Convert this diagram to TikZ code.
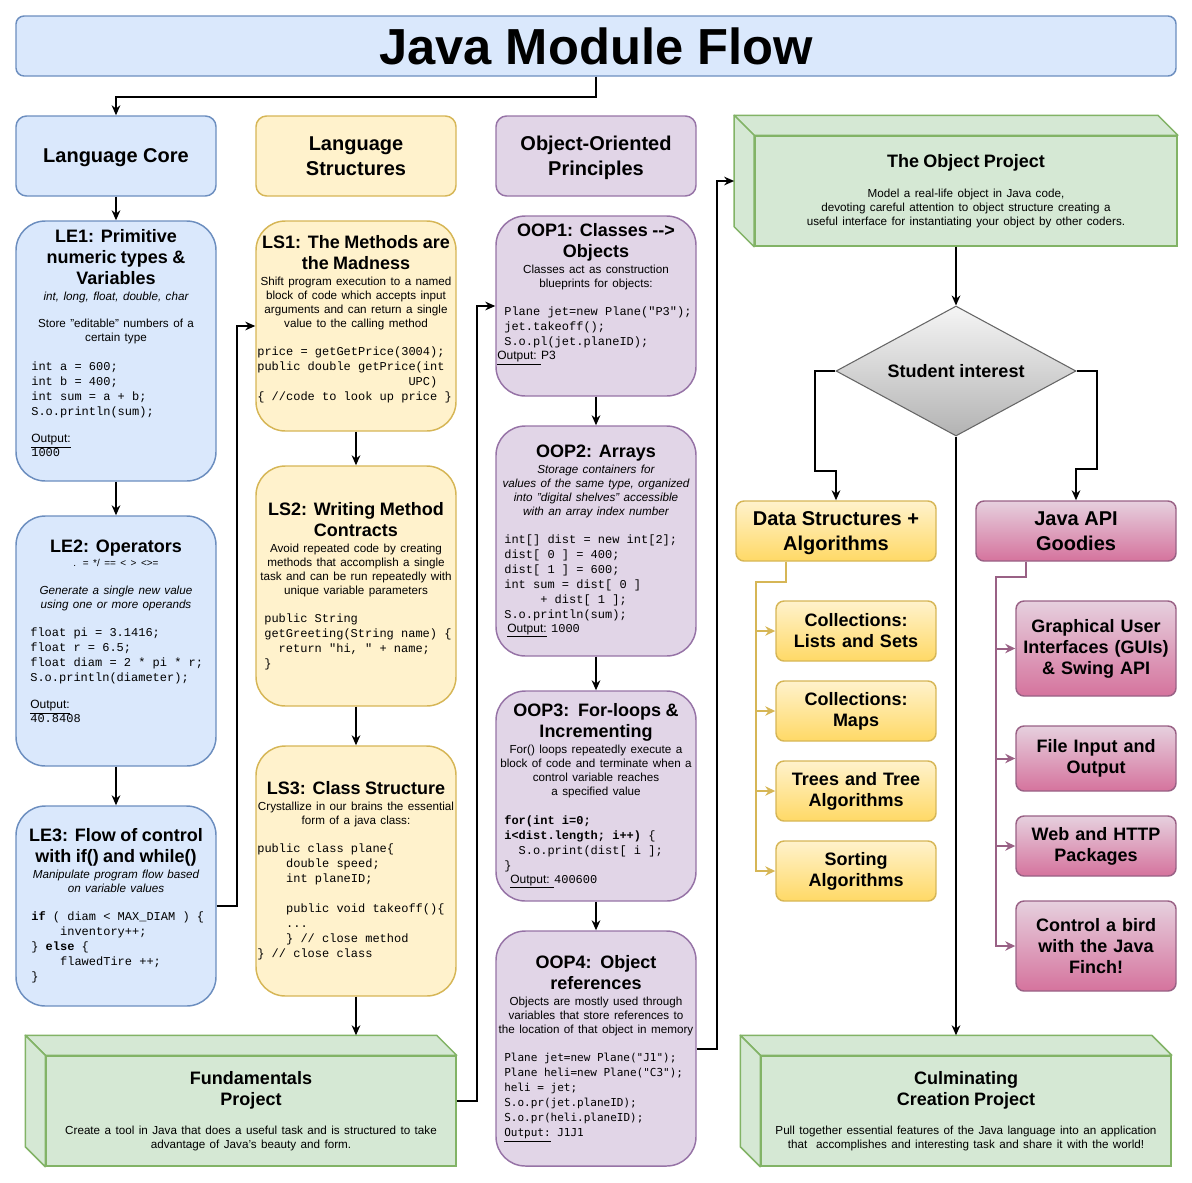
\documentclass[tikz,border=0pt]{standalone}
\usepackage{fontspec}
\setmainfont{Liberation Sans}
\setmonofont{Liberation Mono}
\newfontfamily\smallmono{DejaVu Sans Mono}
\usetikzlibrary{arrows.meta,shapes.geometric,calc}

\definecolor{coreFill}{HTML}{DAE8FC}
\definecolor{coreLine}{HTML}{6C8EBF}
\definecolor{strFill}{HTML}{FFF2CC}
\definecolor{strLine}{HTML}{D6B656}
\definecolor{strDeep}{HTML}{FFD966}
\definecolor{oopFill}{HTML}{E1D5E7}
\definecolor{oopLine}{HTML}{9673A6}
\definecolor{projFill}{HTML}{D5E8D4}
\definecolor{projLine}{HTML}{82B366}
\definecolor{apiTop}{HTML}{E6D0DE}
\definecolor{apiDeep}{HTML}{D5739D}
\definecolor{apiLine}{HTML}{996185}
\definecolor{gateTop}{HTML}{F5F5F5}
\definecolor{gateDeep}{HTML}{B3B3B3}
\definecolor{gateLine}{HTML}{666666}

\newcommand{\lessontitle}[1]{{\fontsize{13.5}{15.75}\selectfont\bfseries #1\par}\vspace{1.5pt}}
\newcommand{\lessondesc}[1]{{\fontsize{8.75}{10.5}\selectfont #1\par}}
\newcommand{\lessoncode}[2][0pt]{{\raggedright\leftskip=#1\relax\fontsize{9}{11.25}\selectfont\ttfamily\spaceskip=0.6em\relax #2\par}}
\newcommand{\lessonout}[2][0pt]{{\raggedright\leftskip=#1\relax\fontsize{9}{10.5}\selectfont #2\par}}
\newcommand{\lessongap}{\vspace{10pt}}

\begin{document}
\begin{tikzpicture}[x=0.75pt, y=-0.75pt,
    lesson/.style={rectangle, rounded corners=22pt, line width=1.1pt, text width=148pt, inner xsep=1pt, inner ysep=0pt, align=center, minimum width=150pt},
    core/.style={lesson, fill=coreFill, draw=coreLine},
    struct/.style={lesson, fill=strFill, draw=strLine},
    oop/.style={lesson, fill=oopFill, draw=oopLine},
    header/.style={rectangle, rounded corners=8pt, line width=1.1pt, minimum width=150pt, minimum height=60pt, text depth=0pt, align=center, font=\fontsize{15}{18.75}\selectfont\bfseries},
    dshead/.style={header, minimum height=45pt, rounded corners=6pt, top color=strFill, bottom color=strDeep, draw=strLine},
    apihead/.style={header, minimum height=45pt, rounded corners=6pt, top color=apiTop, bottom color=apiDeep, draw=apiLine},
    topic/.style={rectangle, rounded corners=6pt, line width=1.1pt, minimum width=120pt, minimum height=45pt, text width=117pt, inner xsep=1.5pt, align=center, font=\fontsize{13.5}{15.75}\selectfont\bfseries},
    dstopic/.style={topic, top color=strFill, bottom color=strDeep, draw=strLine},
    apitopic/.style={topic, top color=apiTop, bottom color=apiDeep, draw=apiLine},
    projface/.style={rectangle, fill=projFill, draw=projLine, line width=1.1pt, minimum width=307.5pt, minimum height=82.5pt, text width=300pt, align=center},
    projside/.style={fill=projFill, draw=projLine, line width=1.1pt, line join=round},
    flow/.style={line width=1.5pt, -{Stealth[length=7.5pt,width=6.5pt]}},
    dsflow/.style={line width=1.5pt, draw=strLine, -{Stealth[length=7.5pt,width=7pt]}},
    apiflow/.style={line width=1.5pt, draw=apiLine, -{Stealth[length=7.5pt,width=7pt]}}]

    \useasboundingbox (0,0) rectangle (1192,1182);

    % title
    \node[rectangle, rounded corners=6pt, line width=1.1pt, fill=coreFill, draw=coreLine, minimum width=870pt, minimum height=45pt, font=\fontsize{38}{40}\selectfont\bfseries] (title) at (596,46) {Java Module Flow};

    % column headers
    \node[header, fill=coreFill, draw=coreLine] (lc) at (116,156) {Language Core};
    \node[header, fill=strFill, draw=strLine] (ls) at (356,156) {Language\\Structures};
    \node[header, fill=oopFill, draw=oopLine] (lo) at (596,156) {Object-Oriented\\Principles};

    % language core
    \node[core, minimum height=195pt] (le1) at (116,351) {%
        \lessontitle{LE1: Primitive\\numeric types \&\\Variables}
        \lessondesc{\itshape int, long, float, double, char}
        \lessongap
        \lessondesc{Store "editable" numbers of a\\certain type}
        \lessongap
        \lessoncode[10.5pt]{int a = 600;\\int b = 400;\\int sum = a + b;\\S.o.println(sum);}
        \lessongap
        \lessonout[10.5pt]{\underline{Output:}\\\texttt{1000}}
        \null};
    \node[core, minimum height=187.5pt] (le2) at (116,641) {%
        \lessontitle{LE2: Operators}
        {\fontsize{7.5}{9}\selectfont . = */ == < > <>=\par}
        \lessongap
        \lessondesc{\itshape Generate a single new value\\using one or more operands}
        \lessongap
        \lessoncode[9.75pt]{float pi = 3.1416;\\float r = 6.5;\\float diam = 2 * pi * r;\\S.o.println(diameter);}
        \lessongap
        \lessonout[9.75pt]{\underline{Output:}\\\texttt{40.8408}}
        \vspace{2pt}\null};
    \node[core, minimum height=150pt] (le3) at (116,906) {%
        \lessontitle{LE3: Flow of control\\with if() and while()}
        \lessondesc{\itshape Manipulate program flow based\\on variable values}
        \lessongap
        \lessoncode[10.5pt]{\textbf{if} ( diam < MAX\_DIAM ) \{\\\ \ \ \ inventory++;\\\} \textbf{else} \{\\\ \ \ \ flawedTire ++;\\\}}};

    % language structures
    \node[struct, minimum height=157.5pt] (ls1) at (356,326) {%
        \lessontitle{LS1: The Methods are\\the Madness}
        \lessondesc{Shift program execution to a named\\block of code which accepts input\\arguments and can return a single\\value to the calling method}
        \lessongap
        \lessoncode{price = getGetPrice(3004);\\public double getPrice(int\\\hspace*{113.4pt}UPC)\\\{ //code to look up price \}}
        \null};
    \node[struct, minimum height=180pt] (ls2) at (356,586) {%
        \lessontitle{LS2: Writing Method\\Contracts}
        \lessondesc{Avoid repeated code by creating\\methods that accomplish a single\\task and can be run repeatedly with\\unique variable parameters}
        \lessongap
        \lessoncode[5.25pt]{public String\\getGreeting(String name) \{\\\ \ return "hi, " + name;\\\}}};
    \node[struct, minimum height=187.5pt] (ls3) at (356,871) {%
        \lessontitle{LS3: Class Structure}
        \lessondesc{Crystallize in our brains the essential\\form of a java class:}
        \lessongap
        \lessoncode{public class plane\{\\\ \ \ \ double speed;\\\ \ \ \ int planeID;\\\mbox{}\\\ \ \ \ public void takeoff()\{\\\ \ \ \ ...\\\ \ \ \ \} // close method\\\} // close class}};

    % object-oriented principles
    \node[oop, minimum height=135pt] (oop1) at (596,306) {%
        \lessontitle{OOP1: Classes -{}->\\Objects}
        \lessondesc{Classes act as construction\\blueprints for objects:}
        \lessongap
        \lessoncode[5.25pt]{Plane jet=new Plane("P3");\\jet.takeoff();\\S.o.pl(jet.planeID);}
        \lessonout{\underline{Output:\ }P3}
        \vspace{10pt}\null};
    \node[oop, minimum height=172.5pt] (oop2) at (596,541) {%
        \lessontitle{OOP2: Arrays}
        \lessondesc{\itshape Storage containers for\\values of the same type, organized\\into "digital shelves" accessible\\with an array index number}
        \lessongap
        \lessoncode[5.25pt]{int[] dist = new int[2];\\dist[ 0 ] = 400;\\dist[ 1 ] = 600;\\int sum = dist[ 0 ]\\\ \ \ \ \ + dist[ 1 ];\\S.o.println(sum);}
        \lessonout[7.5pt]{\underline{Output:}\ \texttt{1000}}};
    \node[oop, minimum height=157.5pt] (oop3) at (596,796) {%
        \lessontitle{OOP3:\ \ For-loops \&\\Incrementing}
        \lessondesc{For() loops repeatedly execute a\\block of code and terminate when a\\control variable reaches\\a specified value}
        \lessongap
        \lessoncode[5.25pt]{\textbf{for(int i=0;}\\\textbf{i<dist.length; i++)} \{\\\ \ S.o.print(dist[ i ];\\\}}
        \lessonout[9.75pt]{\underline{Output:\ }\texttt{400600}}};
    \node[oop, minimum height=176.25pt] (oop4) at (596,1048.5) {%
        \lessontitle{OOP4:\ \ Object\\references}
        \lessondesc{Objects are mostly used through\\variables that store references to\\the location of that object in memory}
        \vspace{10pt}
        {\raggedright\leftskip=5.25pt\fontsize{8.25}{11.25}\selectfont\smallmono\spaceskip=0.6em\relax Plane jet=new Plane("J1");\\Plane heli=new Plane("C3");\\heli = jet;\\S.o.pr(jet.planeID);\\S.o.pr(heli.planeID);\\\underline{Output:}\ J1J1\par}};

    % projects (front faces, then the cube sides)
    \node[projface] (fund) at (251,1111) {%
        {\fontsize{13.5}{15.75}\selectfont\bfseries Fundamentals\\Project\par}\vspace{11pt}
        {\fontsize{8.75}{10.5}\selectfont Create a tool in Java that does a useful task and is structured to take\\advantage of Java's beauty and form.\par}};
    \node[projface, minimum width=315pt, text width=310pt] (objp) at (966,191) {%
        {\fontsize{13.5}{15.75}\selectfont\bfseries The Object Project\par}\vspace{12pt}
        {\fontsize{8.75}{10.5}\selectfont Model a real-life object in Java code,\\devoting careful attention to object structure creating a\\useful interface for instantiating your object by other coders.\par}};
    \node[projface] (culm) at (966,1111) {%
        {\fontsize{13.5}{15.75}\selectfont\bfseries Culminating\\Creation Project\par}\vspace{11pt}
        {\fontsize{8.75}{10.5}\selectfont Pull together essential features of the Java language into an application\\that\ \ accomplishes and interesting task and share it with the world!\par}};

    \coordinate (fund back) at ($(fund.north west)+(-20,-20)$);
    \coordinate (objp back) at ($(objp.north west)+(-20,-20)$);
    \coordinate (culm back) at ($(culm.north west)+(-20,-20)$);
    \coordinate (objp in) at ($(objp.west)+(-20,-10)$);

    \filldraw[projside] (fund.north west) -- (fund back) -- ($(fund.north east)+(-20,-20)$) -- (fund.north east) -- cycle;
    \filldraw[projside] (fund.north west) -- (fund back) -- ($(fund.south west)+(-20,-20)$) -- (fund.south west) -- cycle;
    \filldraw[projside] (objp.north west) -- (objp back) -- ($(objp.north east)+(-20,-20)$) -- (objp.north east) -- cycle;
    \filldraw[projside] (objp.north west) -- (objp back) -- ($(objp.south west)+(-20,-20)$) -- (objp.south west) -- cycle;
    \filldraw[projside] (culm.north west) -- (culm back) -- ($(culm.north east)+(-20,-20)$) -- (culm.north east) -- cycle;
    \filldraw[projside] (culm.north west) -- (culm back) -- ($(culm.south west)+(-20,-20)$) -- (culm.south west) -- cycle;

    % choice and electives
    \node[diamond, aspect=1.85, minimum width=180pt, minimum height=97.5pt, inner sep=0pt, line width=0.8pt, top color=gateTop, bottom color=gateDeep, draw=gateLine, font=\fontsize{13.5}{15.75}\selectfont\bfseries] (stu) at (956,371) {Student interest};

    \node[dshead] (ds) at (836,531) {Data Structures +\\Algorithms};
    \node[apihead] (api) at (1076,531) {Java API\\Goodies};

    \node[dstopic] (lists) at (856,631) {Collections:\\Lists and Sets};
    \node[dstopic] (maps) at (856,711) {Collections:\\Maps};
    \node[dstopic] (trees) at (856,791) {Trees and Tree\\Algorithms};
    \node[dstopic] (sorting) at (856,871) {Sorting\\Algorithms};

    \node[apitopic, minimum height=71.25pt] (gui) at (1096,648.5) {Graphical User\\Interfaces (GUIs)\\\& Swing API};
    \node[apitopic, minimum height=48.75pt] (file) at (1096,758.5) {File Input and\\Output};
    \node[apitopic] (web) at (1096,846) {Web and HTTP\\Packages};
    \node[apitopic, minimum height=67.5pt] (finch) at (1096,946) {Control a bird\\with the Java\\Finch!};

    % connectors
    \draw[flow] (title.south) -- ++(0,20) -| (lc.north);
    \draw[flow] (lc) -- (le1);
    \draw[flow] (le1) -- (le2);
    \draw[flow] (le2) -- (le3);
    \draw[flow] (le3.east) -- ++(20,0) |- (ls1.west);
    \draw[flow] (ls1) -- (ls2);
    \draw[flow] (ls2) -- (ls3);
    \draw[flow] (ls3.south) -- (ls3.south |- fund back);
    \draw[flow] ([yshift=7.5pt]fund.east) -- ++(20,0) |- (oop1.west);
    \draw[flow] (oop1) -- (oop2);
    \draw[flow] (oop2) -- (oop3);
    \draw[flow] (oop3) -- (oop4);
    \draw[flow] (oop4.east) -- ++(20,0) |- (objp in);
    \draw[flow] (stu.north |- objp.south) -- (stu.north);
    \draw[flow] (stu.west) -- ++(-20,0) -- ++(0,100) -| (ds.north);
    \draw[flow] (stu.east) -- ++(20,0) -- ++(0,98) -| (api.north);
    \draw[flow] (stu.south) -- (stu.south |- culm back);

    \draw[dsflow] ([xshift=-37.5pt]ds.south) -- ++(0,20) -- ++(-30,0) |- (lists.west);
    \draw[dsflow] ([xshift=-37.5pt]ds.south) -- ++(0,20) -- ++(-30,0) |- (maps.west);
    \draw[dsflow] ([xshift=-37.5pt]ds.south) -- ++(0,20) -- ++(-30,0) |- (trees.west);
    \draw[dsflow] ([xshift=-37.5pt]ds.south) -- ++(0,20) -- ++(-30,0) |- (sorting.west);

    \draw[apiflow] ([xshift=-37.5pt]api.south) -- ++(0,15) -- ++(-30,0) |- (gui.west);
    \draw[apiflow] ([xshift=-37.5pt]api.south) -- ++(0,15) -- ++(-30,0) |- (file.west);
    \draw[apiflow] ([xshift=-37.5pt]api.south) -- ++(0,15) -- ++(-30,0) |- (web.west);
    \draw[apiflow] ([xshift=-37.5pt]api.south) -- ++(0,15) -- ++(-30,0) |- (finch.west);
\end{tikzpicture}
\end{document}
